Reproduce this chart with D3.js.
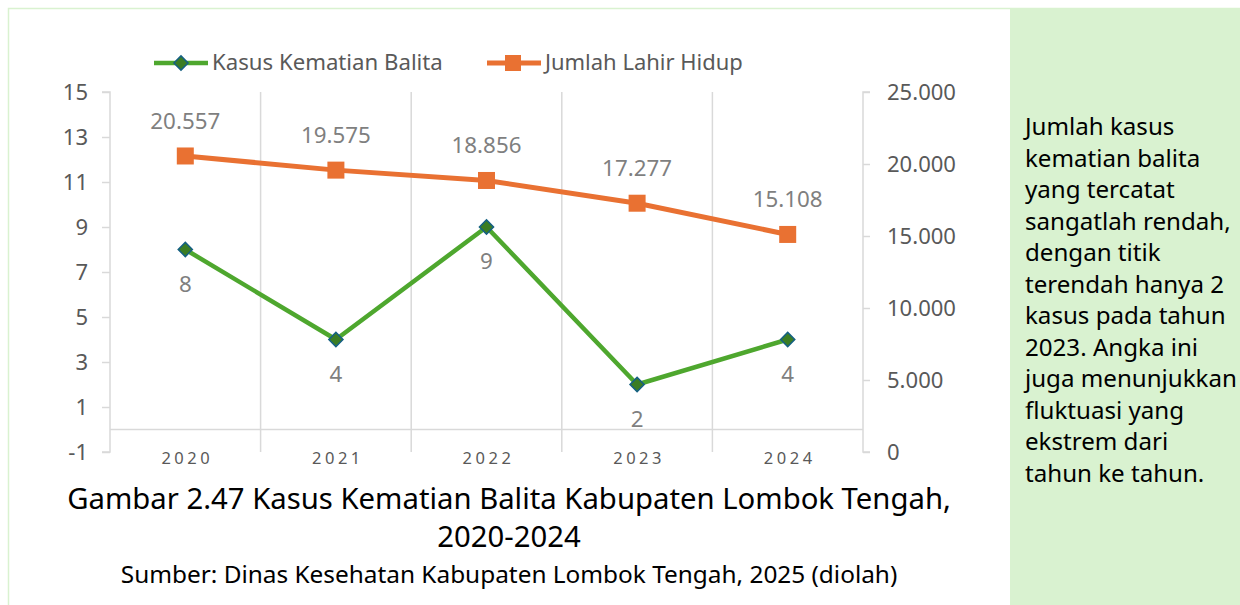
<!DOCTYPE html>
<html><head><meta charset="utf-8">
<script src="https://cdn.jsdelivr.net/npm/d3@7"></script>
<style>body{margin:0;background:#fff;} svg{display:block;}</style>
</head><body>
<svg id="c" width="1240" height="605"></svg>
<script>
const years = ["2020","2021","2022","2023","2024"];
const kematian = [8,4,9,2,4];
const lahir = [20557,19575,18856,17277,15108];
const leftTicks = [-1,1,3,5,7,9,11,13,15];
const rightTicks = [0,5000,10000,15000,20000,25000];
const panelLines = ["Jumlah kasus","kematian balita","yang tercatat","sangatlah rendah,","dengan titik","terendah hanya 2","kasus pada tahun","2023. Angka ini","juga menunjukkan","fluktuasi yang","ekstrem dari","tahun ke tahun."];
const seriesNames = ["Kasus Kematian Balita","Jumlah Lahir Hidup"];

const svg = d3.select("#c");
const FONT = "'Noto Sans', 'Open Sans', sans-serif";
const GREEN = "#4EA72E", ORANGE = "#E97132", GRID = "#D9D9D9", AX = "#595959";
const fmtDot = d=>d3.format(",")(d).replace(/,/g,".");

function fit(sel, w){ const n=sel.node(); const cur=parseFloat(sel.attr("font-size")); const l=n.getComputedTextLength(); sel.attr("font-size", cur*w/l); }
function sizeFor(str, w, fs){ const t=svg.append("text").attr("font-family",FONT).attr("font-size",fs).text(str); const l=t.node().getComputedTextLength(); t.remove(); return fs*w/l; }
const numFS = sizeFor("25.000", 69, 18);

// outer border
svg.append("rect").attr("x",8.5).attr("y",8.5).attr("width",1240).attr("height",610)
  .attr("fill","none").attr("stroke","#D9F2D0").attr("stroke-width",1.5);
// side panel
svg.append("rect").attr("x",1010).attr("y",9).attr("width",230).attr("height",596).attr("fill","#D9F2D0");

const x = d3.scaleBand().domain(years).range([110,863]).padding(0);
const yL = d3.scaleLinear().domain([-1,15]).range([452,92]);
const yR = d3.scaleLinear().domain([0,25000]).range([452,92]);

// vertical gridlines at category boundaries
const bounds = years.map(d=>x(d)).concat([x.range()[1]]);
svg.append("g").selectAll("line").data(bounds.slice(1,-1)).join("line")
  .attr("x1",d=>d).attr("x2",d=>d).attr("y1",92).attr("y2",452)
  .attr("stroke",GRID).attr("stroke-width",1.5);

// left axis
const gL = svg.append("g").attr("transform","translate(110,0)")
  .call(d3.axisLeft(yL).tickValues(leftTicks).tickSize(8).tickPadding(14).tickFormat(d=>String(d)));
gL.select(".domain").attr("stroke",GRID).attr("stroke-width",1.5).attr("d","M-8,"+yL(15)+"H0V"+yL(-1)+"H-8");
gL.selectAll(".tick line").attr("stroke",GRID).attr("stroke-width",1.5);
gL.selectAll(".tick text").attr("fill",AX).attr("font-size",numFS).attr("font-family",FONT);

// right axis
const gR = svg.append("g").attr("transform","translate(863,0)")
  .call(d3.axisRight(yR).tickValues(rightTicks).tickSize(7).tickPadding(17).tickFormat(fmtDot));
gR.select(".domain").attr("stroke",GRID).attr("stroke-width",1.5).attr("d","M7,"+yR(25000)+"H0V"+yR(0)+"H7");
gR.selectAll(".tick line").attr("stroke",GRID).attr("stroke-width",1.5);
gR.selectAll(".tick text").attr("fill",AX).attr("font-size",numFS).attr("font-family",FONT);

// horizontal category axis at 0 (left)
svg.append("line").attr("x1",110).attr("x2",863).attr("y1",yL(0)).attr("y2",yL(0))
  .attr("stroke",GRID).attr("stroke-width",1.5);
// category labels
svg.append("g").selectAll("text").data(years).join("text")
  .attr("x",d=>x(d)+x.bandwidth()/2+2).attr("y",464).attr("text-anchor","middle")
  .attr("font-size",16.5).attr("letter-spacing","3.5px").attr("font-family",FONT).attr("fill",AX).text(d=>d);

// lines
const cx = d=>x(d)+x.bandwidth()/2;
svg.append("path").datum(lahir).attr("fill","none").attr("stroke",ORANGE).attr("stroke-width",5).attr("stroke-linejoin","round")
  .attr("d",d3.line().x((d,i)=>cx(years[i])).y(d=>yR(d)));
svg.append("path").datum(kematian).attr("fill","none").attr("stroke",GREEN).attr("stroke-width",4.5).attr("stroke-linejoin","round")
  .attr("d",d3.line().x((d,i)=>cx(years[i])).y(d=>yL(d)));

// markers
svg.append("g").selectAll("rect").data(lahir).join("rect")
  .attr("x",(d,i)=>cx(years[i])-8.5).attr("y",d=>yR(d)-8.5).attr("width",17).attr("height",17).attr("fill",ORANGE);
svg.append("g").selectAll("path").data(kematian).join("path")
  .attr("transform",(d,i)=>`translate(${cx(years[i])},${yL(d)}) rotate(45)`)
  .attr("d","M-5,-5H5V5H-5Z").attr("fill","#3B7D23").attr("stroke","#156082").attr("stroke-width",1.5);

// data labels
const labFS = sizeFor("20.557", 70, 19);
svg.append("g").selectAll("text").data(lahir).join("text")
  .attr("x",(d,i)=>cx(years[i])).attr("y",d=>yR(d)-27).attr("text-anchor","middle")
  .attr("font-size",labFS).attr("font-family",FONT).attr("fill","#7F7F7F").text(fmtDot);
svg.append("g").selectAll("text").data(kematian).join("text")
  .attr("x",(d,i)=>cx(years[i])).attr("y",d=>yL(d)+42).attr("text-anchor","middle")
  .attr("font-size",labFS).attr("font-family",FONT).attr("fill","#7F7F7F").text(d=>d);

// legend
const lg = svg.append("g");
lg.append("line").attr("x1",154).attr("x2",208).attr("y1",63).attr("y2",63).attr("stroke",GREEN).attr("stroke-width",4.5);
lg.append("path").attr("transform","translate(181,63) rotate(45)").attr("d","M-5,-5H5V5H-5Z").attr("fill","#3B7D23").attr("stroke","#156082").attr("stroke-width",1.5);
const lt1 = lg.append("text").attr("x",212).attr("y",70).attr("font-size",19).attr("font-family",FONT).attr("fill",AX).text(seriesNames[0]);
fit(lt1, 231);
lg.append("line").attr("x1",487).attr("x2",541).attr("y1",63).attr("y2",63).attr("stroke",ORANGE).attr("stroke-width",5);
lg.append("rect").attr("x",505).attr("y",55).attr("width",16).attr("height",16).attr("fill",ORANGE);
const lt2 = lg.append("text").attr("x",545).attr("y",70).attr("font-size",19).attr("font-family",FONT).attr("fill",AX).text(seriesNames[1]);
fit(lt2, 198);

// titles
const t1 = svg.append("text").attr("x",509).attr("y",509).attr("text-anchor","middle").attr("font-size",26).attr("font-family",FONT).attr("fill","#000")
  .text("Gambar 2.47 Kasus Kematian Balita Kabupaten Lombok Tengah,");
fit(t1, 884);
const t2 = svg.append("text").attr("x",509).attr("y",547).attr("text-anchor","middle").attr("font-size",26).attr("font-family",FONT).attr("fill","#000")
  .text("2020-2024");
t2.attr("font-size", t1.attr("font-size"));
const t3 = svg.append("text").attr("x",509).attr("y",583).attr("text-anchor","middle").attr("font-size",19).attr("font-family",FONT).attr("fill","#000")
  .text("Sumber: Dinas Kesehatan Kabupaten Lombok Tengah, 2025 (diolah)");
fit(t3, 777);

// panel text
const pt = svg.append("text").attr("font-size",21).attr("font-family",FONT).attr("fill","#000");
panelLines.forEach((s,i)=>{
  pt.append("tspan").attr("x",1025).attr("y",135+i*31.5).text(s);
});
let maxw = 0; pt.selectAll("tspan").each(function(){ maxw=Math.max(maxw,this.getComputedTextLength()); });
pt.attr("font-size", 21*212/maxw);
</script>
</body></html>
